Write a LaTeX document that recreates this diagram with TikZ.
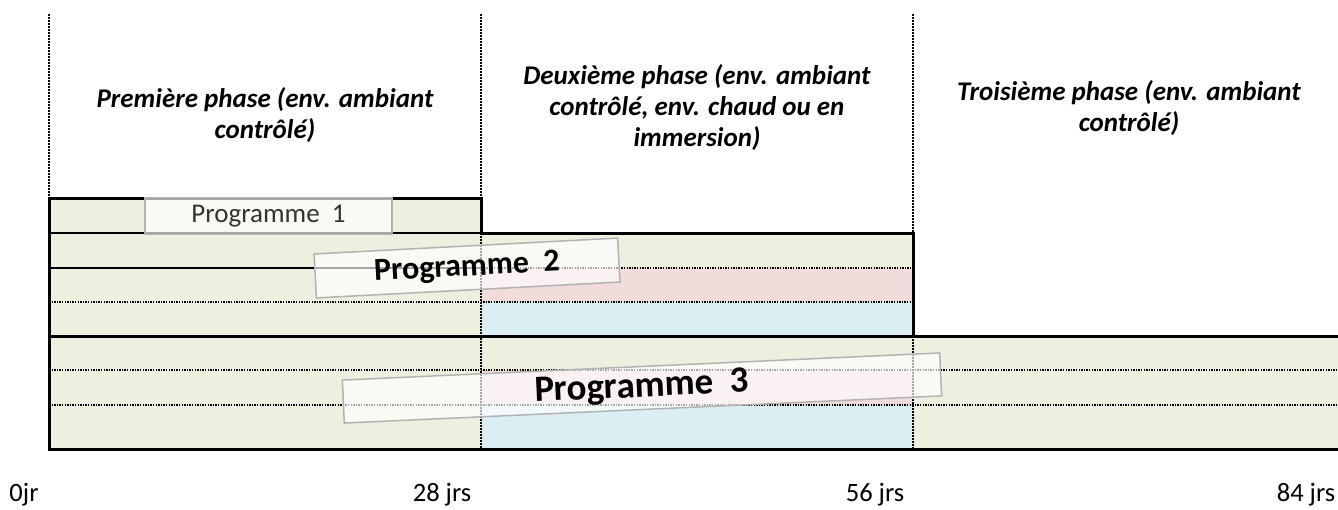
\documentclass[tikz,border=0pt]{standalone}
\usepackage{fontspec}
\setmainfont{Carlito}
\definecolor{cgreen}{HTML}{EBF1DE}
\definecolor{cpink}{HTML}{F2DCDB}
\definecolor{cblue}{HTML}{DBEEF3}
\begin{document}
\begin{tikzpicture}[x=1pt,y=-1pt,
  hdr/.style={font=\fontsize{27}{31}\selectfont\bfseries\itshape, align=center, inner sep=0pt},
  axlab/.style={font=\fontsize{26.5}{30}\selectfont, anchor=base, inner sep=0pt},
  progbox/.style={draw=gray!60, line width=1.5pt, fill=white, fill opacity=0.65, text opacity=1, inner sep=0pt},
  thickline/.style={line width=3pt, line join=miter, line cap=rect},
  dotline/.style={line width=1.3pt, dash pattern=on 1.3pt off 1.3pt},
  vdot/.style={line width=2.5pt, dash pattern=on 1.5pt off 1.5pt}]
\useasboundingbox (0,0) rectangle (1338,509);
% fills
\fill[cgreen] (49,198) rectangle (481,449);
\fill[cgreen] (481,233) rectangle (913,268);
\fill[cpink] (481,268) rectangle (913,302);
\fill[cblue] (481,302) rectangle (913,336);
\fill[cgreen] (481,336) rectangle (913,370);
\fill[cpink] (481,370) rectangle (913,405);
\fill[cblue] (481,405) rectangle (913,449);
\fill[cgreen] (913,336) rectangle (1338,449);
% horizontal inner lines
\draw[line width=1.5pt] (49,233) -- (481,233);
\draw[line width=2pt] (49,268) -- (481,268);
\draw[dotline] (481,268) -- (913,268);
\draw[dotline] (49,302) -- (913,302);
\draw[dotline] (49,370) -- (1338,370);
\draw[dotline] (49,405) -- (1338,405);
% vertical dotted lines
\draw[vdot] (49,14) -- (49,198);
\draw[vdot] (481,14) -- (481,198);
\draw[vdot] (481,233) -- (481,449);
\draw[vdot] (913,14) -- (913,233);
\draw[vdot] (913,336) -- (913,449);
% thick borders
\draw[thickline] (49,449) -- (49,198) -- (481,198) -- (481,233) -- (913,233) -- (913,336);
\draw[thickline] (49,336) -- (1338,336);
\draw[thickline] (49,449) -- (1338,449);
% headers
\node[hdr] (h1) at (265,115) {Première phase (env. ambiant\\contrôlé)};
\node[hdr] (h2) at (697,108) {Deuxième phase (env. ambiant\\contrôlé, env. chaud ou en\\immersion)};
\node[hdr] (h3) at (1129,108) {Troisième phase (env. ambiant\\contrôlé)};
% programme labels
\node[progbox, minimum width=247pt, minimum height=37pt, text=black!80,
  font=\fontsize{27}{30}\selectfont] (p1) at (268.5,216) {Programme\ \ 1};
\node[progbox, minimum width=304pt, minimum height=44pt, rotate=3,
  font=\fontsize{32}{34}\selectfont\bfseries] (p2) at (467,268) {Programme\ \ 2};
\node[progbox, minimum width=598pt, minimum height=43pt, rotate=2.6,
  font=\fontsize{37}{40}\selectfont\bfseries] (p3) at (642,388) {Programme\ \ 3};
% axis labels
\node[axlab] (t0) at (24,501) {0jr};
\node[axlab] (t28) at (442,501) {28 jrs};
\node[axlab] (t56) at (875,501) {56 jrs};
\node[axlab] (t84) at (1306,501) {84 jrs};
\end{tikzpicture}
\end{document}
